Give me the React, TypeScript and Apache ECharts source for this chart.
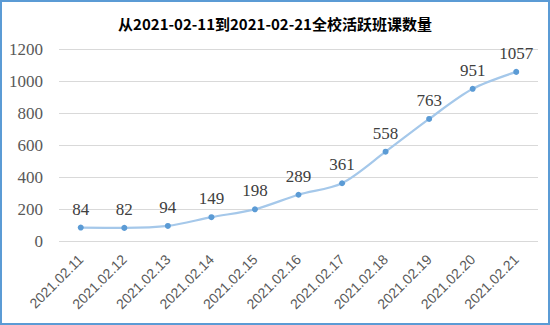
import React, { useEffect, useRef } from "react";
import * as echarts from "echarts";

const categories = [
  "2021.02.11", "2021.02.12", "2021.02.13", "2021.02.14", "2021.02.15", "2021.02.16",
  "2021.02.17", "2021.02.18", "2021.02.19", "2021.02.20", "2021.02.21",
];
const activeClasses = [84, 82, 94, 149, 198, 289, 361, 558, 763, 951, 1057];
const titleText = "从2021-02-11到2021-02-21全校活跃班课数量";
const serif = "Liberation Serif";

export default function App() {
  const ref = useRef<HTMLDivElement>(null);
  useEffect(() => {
    document.body.style.margin = "0";
    const chart = echarts.init(ref.current!, null, { renderer: "svg" });
    chart.setOption({
      animation: false,
      backgroundColor: "#ffffff",
      title: {
        text: titleText,
        left: "center",
        top: 11,
        textStyle: {
          fontFamily: "Noto Sans CJK SC",
          fontSize: 15,
          fontWeight: "bold",
          color: "#000000",
        },
      },
      graphic: [
        {
          type: "rect",
          shape: { x: 1, y: 1, width: 548, height: 323 },
          style: { fill: "none", stroke: "#5b9bd5", lineWidth: 2 },
          silent: true,
        },
      ],
      grid: { left: 59, right: 12, top: 49, bottom: 84 },
      xAxis: {
        type: "category",
        data: categories,
        boundaryGap: true,
        axisLine: { show: false },
        axisTick: { show: false },
        axisLabel: {
          rotate: 45,
          margin: 16,
          interval: 0,
          fontFamily: "Liberation Sans",
          fontSize: 14,
          color: "#595959",
        },
      },
      yAxis: {
        type: "value",
        min: 0,
        max: 1200,
        interval: 200,
        axisLine: { show: false },
        axisTick: { show: false },
        splitLine: { lineStyle: { color: "#d9d9d9", width: 1 } },
        axisLabel: {
          margin: 16,
          fontFamily: serif,
          fontSize: 17,
          color: "#595959",
          formatter: (v: number) => String(v),
        },
      },
      series: [
        {
          type: "line",
          data: activeClasses,
          smooth: 0.3,
          symbol: "circle",
          symbolSize: 6,
          lineStyle: { color: "#a5c8ea", width: 2.25 },
          itemStyle: { color: "#5b9bd5" },
          label: {
            show: true,
            position: "top",
            distance: 7,
            fontFamily: serif,
            fontSize: 17,
            color: "#404040",
            fontStyle: "normal",
          },
        },
      ],
    });
    return () => chart.dispose();
  }, []);
  return (
    <div
      ref={ref}
      style={{ position: "absolute", left: 0, top: 0, width: 550, height: 325 }}
    />
  );
}
